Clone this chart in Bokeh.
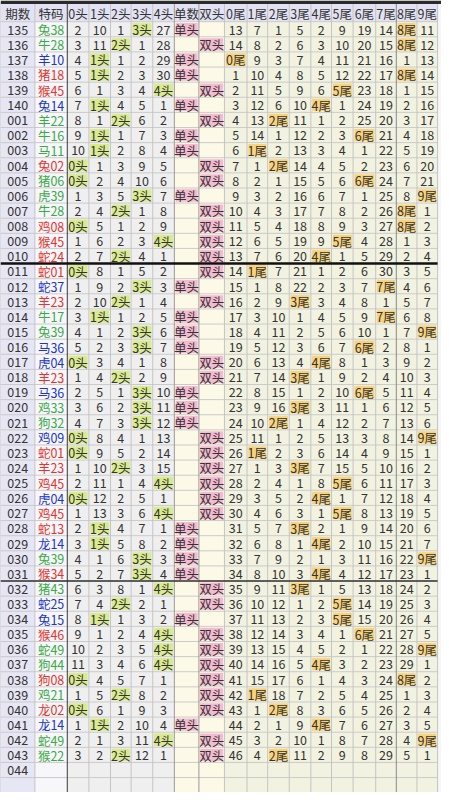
from bokeh.plotting import figure
from bokeh.models import Range1d, ColumnDataSource
from bokeh.embed import file_html
from bokeh.resources import INLINE
from bokeh.core.properties import value

# ---------------- data ----------------
header = ["期数", "特码", "0头", "1头", "2头", "3头", "4头", "单数", "双头",
          "0尾", "1尾", "2尾", "3尾", "4尾", "5尾", "6尾", "7尾", "8尾", "9尾"]

periods = ["135", "136", "137", "138", "139", "140",
           "001", "002", "003", "004", "005", "006", "007", "008", "009", "010",
           "011", "012", "013", "014", "015", "016", "017", "018", "019", "020",
           "021", "022", "023", "024", "025", "026", "027", "028", "029", "030",
           "031", "032", "033", "034", "035", "036", "037", "038", "039", "040",
           "041", "042", "043"]
next_period = "044"

zodiacs = ["兔", "牛", "羊", "猪", "猴", "兔",
           "羊", "牛", "马", "兔", "猪", "虎", "牛", "鸡", "猴", "蛇",
           "蛇", "蛇", "羊", "牛", "兔", "马", "虎", "羊", "马", "鸡",
           "狗", "鸡", "蛇", "羊", "鸡", "虎", "鸡", "蛇", "龙", "兔",
           "猴", "猪", "蛇", "兔", "猴", "蛇", "狗", "狗", "鸡", "龙",
           "龙", "蛇", "猴"]

numbers = ["38", "28", "10", "18", "45", "14",
           "22", "16", "11", "02", "06", "39", "28", "08", "45", "24",
           "01", "37", "23", "17", "39", "36", "04", "23", "36", "33",
           "32", "09", "01", "23", "45", "04", "45", "13", "14", "39",
           "34", "43", "25", "15", "46", "49", "44", "08", "21", "02",
           "14", "49", "22"]

waves = ["g", "g", "b", "r", "r", "b",
         "g", "g", "g", "r", "g", "g", "g", "r", "r", "r",
         "r", "b", "r", "g", "g", "b", "b", "r", "b", "g",
         "g", "b", "r", "r", "r", "b", "r", "r", "b", "g",
         "r", "g", "b", "b", "r", "g", "g", "r", "g", "r",
         "b", "g", "g"]

# head counters (0 = hit in that period)
heads = [
    [2, 10, 1, 0, 27], [3, 11, 0, 1, 28], [4, 0, 1, 2, 29], [5, 0, 2, 3, 30],
    [6, 1, 3, 4, 0], [7, 0, 4, 5, 1],
    [8, 1, 0, 6, 2], [9, 0, 1, 7, 3], [10, 0, 2, 8, 4], [0, 1, 3, 9, 5],
    [0, 2, 4, 10, 6], [1, 3, 5, 0, 7], [2, 4, 0, 1, 8], [0, 5, 1, 2, 9],
    [1, 6, 2, 3, 0], [2, 7, 0, 4, 1],
    [0, 8, 1, 5, 2], [1, 9, 2, 0, 3], [2, 10, 0, 1, 4], [3, 0, 1, 2, 5],
    [4, 1, 2, 0, 6], [5, 2, 3, 0, 7], [0, 3, 4, 1, 8], [1, 4, 0, 2, 9],
    [2, 5, 1, 0, 10], [3, 6, 2, 0, 11],
    [4, 7, 3, 0, 12], [0, 8, 4, 1, 13], [0, 9, 5, 2, 14], [1, 10, 0, 3, 15],
    [2, 11, 1, 4, 0], [0, 12, 2, 5, 1], [1, 13, 3, 6, 0], [2, 0, 4, 7, 1],
    [3, 0, 5, 8, 2], [4, 1, 6, 0, 3],
    [5, 2, 7, 0, 4], [6, 3, 8, 1, 0], [7, 4, 0, 2, 1], [8, 0, 1, 3, 2],
    [9, 1, 2, 4, 0], [10, 2, 3, 5, 0], [11, 3, 4, 6, 0], [0, 4, 5, 7, 1],
    [1, 5, 0, 8, 2], [0, 6, 1, 9, 3],
    [1, 0, 2, 10, 4], [2, 1, 3, 11, 0], [3, 2, 0, 12, 1],
]

odd_even = ["单", "双", "单", "单", "双", "单",
            "双", "单", "单", "双", "双", "单", "双", "双", "双", "双",
            "双", "单", "双", "单", "单", "单", "双", "双", "单", "单",
            "单", "双", "双", "双", "双", "双", "双", "单", "单", "单",
            "单", "双", "双", "单", "双", "双", "双", "双", "双", "双",
            "单", "双", "双"]

# tail counters (0 = hit in that period)
tails = [
    [13, 7, 1, 5, 2, 9, 19, 14, 0, 11], [14, 8, 2, 6, 3, 10, 20, 15, 0, 12],
    [0, 9, 3, 7, 4, 11, 21, 16, 1, 13], [1, 10, 4, 8, 5, 12, 22, 17, 0, 14],
    [2, 11, 5, 9, 6, 0, 23, 18, 1, 15], [3, 12, 6, 10, 0, 1, 24, 19, 2, 16],
    [4, 13, 0, 11, 1, 2, 25, 20, 3, 17], [5, 14, 1, 12, 2, 3, 0, 21, 4, 18],
    [6, 0, 2, 13, 3, 4, 1, 22, 5, 19], [7, 1, 0, 14, 4, 5, 2, 23, 6, 20],
    [8, 2, 1, 15, 5, 6, 0, 24, 7, 21], [9, 3, 2, 16, 6, 7, 1, 25, 8, 0],
    [10, 4, 3, 17, 7, 8, 2, 26, 0, 1], [11, 5, 4, 18, 8, 9, 3, 27, 0, 2],
    [12, 6, 5, 19, 9, 0, 4, 28, 1, 3], [13, 7, 6, 20, 0, 1, 5, 29, 2, 4],
    [14, 0, 7, 21, 1, 2, 6, 30, 3, 5], [15, 1, 8, 22, 2, 3, 7, 0, 4, 6],
    [16, 2, 9, 0, 3, 4, 8, 1, 5, 7], [17, 3, 10, 1, 4, 5, 9, 0, 6, 8],
    [18, 4, 11, 2, 5, 6, 10, 1, 7, 0], [19, 5, 12, 3, 6, 7, 0, 2, 8, 1],
    [20, 6, 13, 4, 0, 8, 1, 3, 9, 2], [21, 7, 14, 0, 1, 9, 2, 4, 10, 3],
    [22, 8, 15, 1, 2, 10, 0, 5, 11, 4], [23, 9, 16, 0, 3, 11, 1, 6, 12, 5],
    [24, 10, 0, 1, 4, 12, 2, 7, 13, 6], [25, 11, 1, 2, 5, 13, 3, 8, 14, 0],
    [26, 0, 2, 3, 6, 14, 4, 9, 15, 1], [27, 1, 3, 0, 7, 15, 5, 10, 16, 2],
    [28, 2, 4, 1, 8, 0, 6, 11, 17, 3], [29, 3, 5, 2, 0, 1, 7, 12, 18, 4],
    [30, 4, 6, 3, 1, 0, 8, 13, 19, 5], [31, 5, 7, 0, 2, 1, 9, 14, 20, 6],
    [32, 6, 8, 1, 0, 2, 10, 15, 21, 7], [33, 7, 9, 2, 1, 3, 11, 16, 22, 0],
    [34, 8, 10, 3, 0, 4, 12, 17, 23, 1], [35, 9, 11, 0, 1, 5, 13, 18, 24, 2],
    [36, 10, 12, 1, 2, 0, 14, 19, 25, 3], [37, 11, 13, 2, 3, 0, 15, 20, 26, 4],
    [38, 12, 14, 3, 4, 1, 0, 21, 27, 5], [39, 13, 15, 4, 5, 2, 1, 22, 28, 0],
    [40, 14, 16, 5, 0, 3, 2, 23, 29, 1], [41, 15, 17, 6, 1, 4, 3, 24, 0, 2],
    [42, 0, 18, 7, 2, 5, 4, 25, 1, 3], [43, 1, 0, 8, 3, 6, 5, 26, 2, 4],
    [44, 2, 1, 9, 0, 7, 6, 27, 3, 5], [45, 3, 2, 10, 1, 8, 7, 28, 4, 0],
    [46, 4, 0, 11, 2, 9, 8, 29, 5, 1],
]

# ---------------- layout / style ----------------
W, H = 449, 800
col_edges = [0, 35, 68, 90, 112, 133, 155, 177, 202, 228,
             251, 272, 294, 316, 337, 359, 382, 403, 424, 445]
bar_h = 3.5
head_bottom = 21.4
row_h = 15.27
FONT = value("Noto Sans CJK SC")
FSIZE = value("12.5px")

col_bg = (["#e6e6f4", "#f7f7fb"] + ["#efefef"] * 5 + ["#fcf9e6"] * 2 + ["#f2f2e0"] * 10)
wave_color = {"r": "#e5332a", "g": "#3aaa45", "b": "#2035c8"}
HIT_HEAD = "#d9eb8e"
HIT_OE = "#f6bad0"
HIT_TAIL = "#f9d37c"
TXT = "#333333"

p = figure(width=441, height=792, x_range=Range1d(0, W), y_range=Range1d(H, 0),
           x_axis_type=None, y_axis_type=None, output_backend="svg",
           toolbar_location=None, min_border=0, outline_line_color=None)
p.grid.visible = False
p.background_fill_color = "#f6f6f6"
p.border_fill_color = "#f6f6f6"

ncols = len(col_edges) - 1
cx = [(col_edges[i] + col_edges[i + 1]) / 2 for i in range(ncols)]
n = len(periods)
n_rows = n + 2  # data rows + next period row + partial blank row


def row_top(r):
    return head_bottom + r * row_h


# column backgrounds
p.quad(left=col_edges[:-1], right=col_edges[1:], top=[head_bottom] * ncols,
       bottom=[H] * ncols, fill_color=col_bg, line_color=None)
# header background + top bar
p.quad(left=[0], right=[col_edges[-1]], top=[bar_h], bottom=[head_bottom],
       fill_color="#e2e2f2", line_color=None)
p.quad(left=[0], right=[W], top=[0], bottom=[bar_h], fill_color="#2b2b2b", line_color=None)

# highlight cells
hl = {"l": [], "r": [], "t": [], "b": [], "c": []}


def add_hl(c, r, color):
    hl["l"].append(col_edges[c] + 1.3)
    hl["r"].append(col_edges[c + 1] - 1.3)
    hl["t"].append(row_top(r) + 1.4)
    hl["b"].append(row_top(r) + row_h - 1.4)
    hl["c"].append(color)


tx, ty, tt, tc = [], [], [], []


def add_txt(c, y, s, color=TXT):
    tx.append(cx[c]); ty.append(y); tt.append(s); tc.append(color)


for c, lab in enumerate(header):
    add_txt(c, (bar_h + head_bottom) / 2 + 0.5, lab)

for r in range(n):
    yc = row_top(r) + row_h / 2 + 0.3
    add_txt(0, yc, periods[r])
    add_txt(1, yc, zodiacs[r] + numbers[r], wave_color[waves[r]])
    for j, v in enumerate(heads[r]):
        if v == 0:
            add_hl(2 + j, r, HIT_HEAD)
            add_txt(2 + j, yc, f"{j}头")
        else:
            add_txt(2 + j, yc, str(v))
    oc = 7 if odd_even[r] == "单" else 8
    add_hl(oc, r, HIT_OE)
    add_txt(oc, yc, odd_even[r] + "头")
    for j, v in enumerate(tails[r]):
        if v == 0:
            add_hl(9 + j, r, HIT_TAIL)
            add_txt(9 + j, yc, f"{j}尾")
        else:
            add_txt(9 + j, yc, str(v))

add_txt(0, row_top(n) + row_h / 2 + 0.3, next_period)

p.quad(left=hl["l"], right=hl["r"], top=hl["t"], bottom=hl["b"],
       fill_color=hl["c"], line_color=None)

# grid lines
hx0, hy0, hx1, hy1 = [], [], [], []
for r in range(n_rows):
    y = row_top(r)
    hx0.append(0); hx1.append(col_edges[-1]); hy0.append(y); hy1.append(y)
p.segment(x0=hx0, y0=hy0, x1=hx1, y1=hy1, line_color="#cbcbcb", line_width=1)

vline_col = ["#c4c4c4"] * len(col_edges)
vline_col[2] = "#3a3a3a"
vline_col[7] = "#9a9a9a"
vline_col[8] = "#9a9a9a"
vline_col[17] = "#8a8a8a"
p.segment(x0=col_edges, y0=[bar_h] * len(col_edges), x1=col_edges, y1=[H] * len(col_edges),
          line_color=vline_col, line_width=1)

# group separators (after 010 and after 031)
sep_rows = [periods.index("010") + 1, periods.index("031") + 1]
p.segment(x0=[0, 0], y0=[row_top(sep_rows[0]), row_top(sep_rows[1])],
          x1=[col_edges[-1]] * 2, y1=[row_top(sep_rows[0]), row_top(sep_rows[1])],
          line_color=["#111111", "#333333"], line_width=[2.5, 1.5])

src = ColumnDataSource(dict(x=tx, y=ty, t=tt, c=tc))
p.text(x="x", y="y", text="t", text_color="c", source=src, text_align="center",
       text_baseline="middle", text_font=FONT, text_font_size=FSIZE)

open("out.html", "w").write(file_html(p, INLINE))
